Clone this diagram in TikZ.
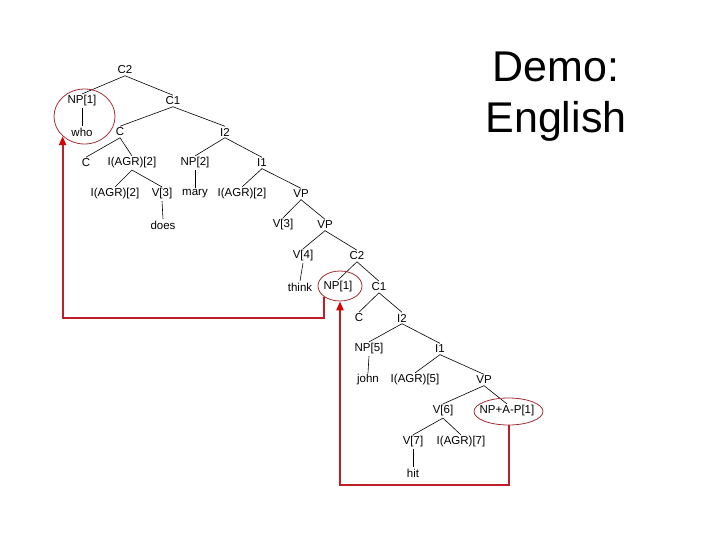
\documentclass[tikz,border=0pt]{standalone}
\usepackage{fontspec}
\setmainfont{Liberation Sans}
\usetikzlibrary{arrows.meta,shapes.geometric}
\definecolor{trail}{RGB}{190,30,40}
\definecolor{ring}{RGB}{165,45,55}

\begin{document}
\begin{tikzpicture}[x=1pt,y=-1pt,
  lab/.style={inner sep=1.5pt,font=\fontsize{11.5}{13}\selectfont},
  br/.style={line width=0.6pt},
  circ/.style={draw=ring,ellipse,inner sep=0pt,line width=0.8pt},
  move/.style={draw=trail,line width=2pt,-{Triangle[length=9pt,width=7pt,color=red!85!black]}}]
\useasboundingbox (0,0) rectangle (720,540);
\node[align=center,font=\fontsize{43}{51}\selectfont] (title) at (556,97) {Demo:\\English};
% upper clause
\node[lab] (c2) at (125,70) {C2};
\node[lab] (np1) at (82,101) {NP[1]};
\node[lab] (c1) at (173,101) {C1};
\node[lab] (who) at (82,132) {who};
\node[lab] (c) at (120,132) {C};
\node[lab] (i2) at (225,132) {I2};
\node[lab] (cc) at (86,163) {C};
\node[lab] (agr) at (132,163) {I(AGR)[2]};
\node[lab] (np2) at (195,163) {NP[2]};
\node[lab] (i1) at (262,163) {I1};
\node[lab] (agra) at (115,194) {I(AGR)[2]};
\node[lab] (v3) at (162,194) {V[3]};
\node[lab] (mary) at (195,194) {mary};
\node[lab] (agrb) at (242,194) {I(AGR)[2]};
\node[lab] (vp) at (301,194) {VP};
\node[lab] (does) at (163,225) {does};
\node[lab] (vt) at (283,225) {V[3]};
\node[lab] (vpa) at (325,225) {VP};
\node[lab] (v4) at (303,256) {V[4]};
\node[lab] (c2b) at (357,256) {C2};
% lower clause
\node[lab] (think) at (300,287) {think};
\node[lab] (np1b) at (338,287) {NP[1]};
\node[lab] (c1b) at (379,287) {C1};
\node[lab] (cb) at (359,318) {C};
\node[lab] (i2b) at (402,318) {I2};
\node[lab] (np5) at (369,349) {NP[5]};
\node[lab] (i1b) at (440,349) {I1};
\node[lab] (john) at (368,380) {john};
\node[lab] (agr5) at (415,380) {I(AGR)[5]};
\node[lab] (vpb) at (484,380) {VP};
\node[lab] (v6) at (443,411) {V[6]};
\node[lab] (npap) at (507,411) {NP+A-P[1]};
\node[lab] (v7) at (413,442) {V[7]};
\node[lab] (agr7) at (461,442) {I(AGR)[7]};
\node[lab] (hit) at (413,473) {hit};
\foreach \a/\b in {c2/np1,c2/c1,np1/who,c1/c,c1/i2,c/cc,c/agr,agr/agra,agr/v3,v3/does,
    i2/np2,i2/i1,np2/mary,i1/agrb,i1/vp,vp/vt,vp/vpa,vpa/v4,vpa/c2b,v4/think,
    c2b/np1b,c2b/c1b,c1b/cb,c1b/i2b,i2b/np5,i2b/i1b,np5/john,i1b/agr5,i1b/vpb,
    vpb/v6,vpb/npap,v6/v7,v6/agr7,v7/hit}
  {\draw[br] (\a.south) -- (\b.north);}
% moved phrases
\node[circ,minimum width=61pt,minimum height=55pt] (sub) at (84.5,116.5) {};
\node[circ,minimum width=44pt,minimum height=30pt] (trace) at (340,286) {};
\node[circ,minimum width=69pt,minimum height=27pt] (gap) at (508.5,411.5) {};
\draw[move] (gap.south) -- ++(0,60) -| (trace.south);
\draw[move] (trace.213) -- ++(0,21) -| (sub.222);
\end{tikzpicture}
\end{document}
